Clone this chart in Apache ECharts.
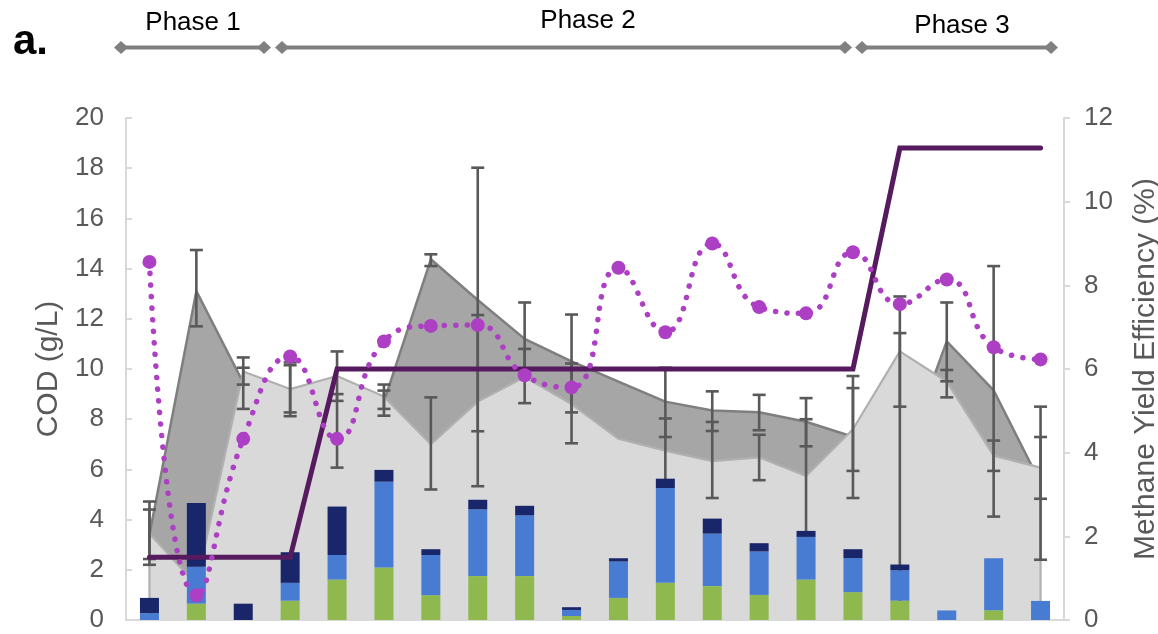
<!DOCTYPE html>
<html>
<head>
<meta charset="utf-8">
<script src="https://cdn.jsdelivr.net/npm/echarts@6/dist/echarts.min.js"></script>
<style>
  html, body { margin: 0; padding: 0; background: #ffffff; }
  #chart { width: 1158px; height: 634px; }
</style>
</head>
<body>
<div id="chart"></div>
<script>
// Sampling points along the three operating phases
const samples = ['1', '2', '3', '4', '5', '6', '7', '8', '9', '10',
                 '11', '12', '13', '14', '15', '16', '17', '18', '19', '20'];

// COD fractions of the effluent (g/L), stacked bottom to top
const codGreen = [0, 0.65, 0, 0.77, 1.61, 2.09, 0.99, 1.75, 1.75, 0.16, 0.88, 1.48, 1.35, 1.0, 1.61, 1.11, 0.77, 0, 0.39, 0];
const codBlue  = [0.27, 1.47, 0, 0.71, 0.98, 3.42, 1.6, 2.66, 2.42, 0.24, 1.45, 3.78, 2.09, 1.73, 1.70, 1.36, 1.21, 0.38, 2.07, 0.76];
const codNavy  = [0.61, 2.54, 0.65, 1.22, 1.93, 0.47, 0.23, 0.38, 0.38, 0.11, 0.13, 0.37, 0.6, 0.33, 0.24, 0.35, 0.23, 0, 0, 0];

// Total COD profiles (g/L) drawn as overlapping areas
const codDark  = [3.4, 13.1, 9.45, 9.15, 7.5, 8.7, 14.37, 12.75, 11.2, 10.3, 9.5, 8.7, 8.35, 8.28, 7.9, 7.3, 6.0, 11.1, 9.15, 5.45];
const codLight = [3.45, 1.4, 9.9, 9.2, 9.72, 8.9, 7.0, 8.7, 9.68, 8.6, 7.22, 6.75, 6.33, 6.48, 5.74, 7.6, 10.7, 9.5, 6.55, 6.07];

// Error ranges (g/L) for the two area profiles; null where none was measured
const errDarkLow   = [2.2, 11.7, 8.41, 8.12, 6.07, 8.14, 14.1, 7.52, 9.72, 8.27, null, 7.29, 7.53, 7.56, 6.92, 4.86, 0.57, 9.51, 4.12, 2.4];
const errDarkHigh  = [4.72, 14.74, 10.05, 10.26, 9.0, 9.38, 14.57, 18.02, 12.65, 12.17, null, 10.05, 9.11, 8.97, 8.84, 9.72, 11.43, 12.65, 14.1, 8.5];
const errLightLow  = [2.43, null, 9.38, 8.27, 8.73, 8.41, 5.2, 5.33, 8.64, 7.04, null, 5.45, 4.86, 5.57, 3.48, 5.94, 8.5, 8.87, 5.94, 4.83];
const errLightHigh = [4.4, null, 10.46, 10.15, 10.7, 9.14, 8.87, 12.15, 10.8, 10.22, null, 8.03, 7.89, 7.38, 8.0, 9.24, 12.89, 9.96, 7.15, 7.29];

// Feed COD per phase (g/L)
const feedCod = [2.5, 2.5, 2.5, 2.5, 10, 10, 10, 10, 10, 10, 10, 10, 10, 10, 10, 10, 18.8, 18.8, 18.8, 18.8];

// Methane yield efficiency (%)
const methaneYield = [8.56, 0.59, 4.33, 6.3, 4.33, 6.66, 7.03, 7.05, 5.85, 5.56, 8.42, 6.88, 9.0, 7.48, 7.33, 8.79, 7.55, 8.14, 6.52, 6.23];

// Axis ticks
const codTicks = { min: 0, max: 20, step: 2 };
const yieldTicks = { min: 0, max: 12, step: 2 };

const FONT = "'Liberation Sans', Arial, sans-serif";

function areaRenderer(values, fill, stroke, width, withEdges) {
  return function (params, api) {
    const top = values.map((v, i) => api.coord([i, v]));
    const b0 = api.coord([0, 0]);
    const b1 = api.coord([values.length - 1, 0]);
    const outline = withEdges ? [b0].concat(top, [b1]) : top;
    return {
      type: 'group',
      children: [
        { type: 'polygon', shape: { points: [b0].concat(top, [b1]) }, style: { fill: fill } },
        { type: 'polyline', shape: { points: outline },
          style: { fill: 'none', stroke: stroke, lineWidth: width, lineJoin: 'round' } }
      ]
    };
  };
}

function errorRenderer(params, api) {
  const x = api.value(0);
  const p1 = api.coord([x, api.value(2)]);
  const p2 = api.coord([x, api.value(1)]);
  const hw = 6.5;
  const st = { stroke: '#595959', lineWidth: 2.6 };
  return {
    type: 'group',
    children: [
      { type: 'line', shape: { x1: p1[0], y1: p1[1], x2: p2[0], y2: p2[1] }, style: st },
      { type: 'line', shape: { x1: p1[0] - hw, y1: p1[1], x2: p1[0] + hw, y2: p1[1] }, style: st },
      { type: 'line', shape: { x1: p2[0] - hw, y1: p2[1], x2: p2[0] + hw, y2: p2[1] }, style: st }
    ]
  };
}

function errorData(lows, highs) {
  const out = [];
  lows.forEach((lo, i) => { if (lo != null && highs[i] != null) out.push([i, lo, highs[i]]); });
  return out;
}

function phaseArrow(x1, x2, y) {
  const c = '#808080';
  const diamond = (x) => ({
    type: 'polygon',
    shape: { points: [[x - 7, y], [x, y - 6.5], [x + 7, y], [x, y + 6.5]] },
    style: { fill: c }
  });
  return [
    { type: 'line', shape: { x1: x1, y1: y, x2: x2, y2: y }, style: { stroke: c, lineWidth: 4 } },
    diamond(x1), diamond(x2)
  ];
}

function phaseLabel(text, x, y) {
  return { type: 'text', x: x, y: y,
    style: { text: text, font: '26px ' + FONT, fill: '#000000', align: 'center', verticalAlign: 'middle' } };
}

const chart = echarts.init(document.getElementById('chart'), null, { renderer: 'canvas' });

const axisLineGrey = { color: '#d9d9d9', width: 2 };

chart.setOption({
  animation: false,
  backgroundColor: '#ffffff',
  grid: { left: 126, right: 94, top: 118, bottom: 14, containLabel: false, outerBoundsMode: 'none' },
  xAxis: {
    type: 'category',
    data: samples,
    boundaryGap: true,
    axisLine: { show: true, lineStyle: axisLineGrey },
    axisTick: { show: false },
    axisLabel: { show: false },
    splitLine: { show: false }
  },
  yAxis: [
    {
      type: 'value', position: 'left',
      min: codTicks.min, max: codTicks.max, interval: codTicks.step,
      axisLine: { show: true, lineStyle: axisLineGrey },
      axisTick: { show: true, inside: true, length: 6, lineStyle: axisLineGrey },
      splitLine: { show: false },
      axisLabel: { color: '#595959', fontSize: 26, fontFamily: FONT, margin: 22 },
      name: 'COD (g/L)', nameLocation: 'middle', nameRotate: 90, nameGap: 62,
      nameTextStyle: { color: '#595959', fontSize: 30, fontFamily: FONT }
    },
    {
      type: 'value', position: 'right',
      min: yieldTicks.min, max: yieldTicks.max, interval: yieldTicks.step,
      axisLine: { show: true, lineStyle: axisLineGrey },
      axisTick: { show: true, inside: false, length: 6, lineStyle: axisLineGrey },
      splitLine: { show: false },
      axisLabel: { color: '#595959', fontSize: 26, fontFamily: FONT, margin: 20 },
      name: 'Methane Yield Efficiency (%)', nameLocation: 'middle', nameRotate: 90, nameGap: 67,
      nameTextStyle: { color: '#595959', fontSize: 30, fontFamily: FONT }
    }
  ],
  graphic: [
    { type: 'text', x: 13, y: 42,
      style: { text: 'a.', font: 'bold 42px ' + FONT, fill: '#000000', verticalAlign: 'middle' } },
    phaseLabel('Phase 1', 193, 23),
    phaseLabel('Phase 2', 588, 21),
    phaseLabel('Phase 3', 962, 26)
  ].concat(phaseArrow(121, 264, 47.5), phaseArrow(282, 845, 47.5), phaseArrow(862, 1051, 47.5)),
  series: [
    {
      name: 'COD profile (dark)', type: 'custom', silent: true,
      xAxisIndex: 0, yAxisIndex: 0, data: [[0, 0]],
      renderItem: areaRenderer(codDark, '#a6a6a6', '#7f7f7f', 2.5, false)
    },
    {
      name: 'COD profile (light)', type: 'custom', silent: true,
      xAxisIndex: 0, yAxisIndex: 0, data: [[0, 0]],
      renderItem: areaRenderer(codLight, '#d9d9d9', '#b0b0b0', 2.2, true)
    },
    {
      name: 'Error (dark)', type: 'custom', silent: true,
      xAxisIndex: 0, yAxisIndex: 0, encode: { x: 0, y: [1, 2] },
      data: errorData(errDarkLow, errDarkHigh), renderItem: errorRenderer
    },
    {
      name: 'Error (light)', type: 'custom', silent: true,
      xAxisIndex: 0, yAxisIndex: 0, encode: { x: 0, y: [1, 2] },
      data: errorData(errLightLow, errLightHigh), renderItem: errorRenderer
    },
    { name: 'COD green', type: 'bar', stack: 'cod', barWidth: 19, data: codGreen,
      itemStyle: { color: '#8fb94e' } },
    { name: 'COD blue', type: 'bar', stack: 'cod', barWidth: 19, data: codBlue,
      itemStyle: { color: '#487bd2' } },
    { name: 'COD navy', type: 'bar', stack: 'cod', barWidth: 19, data: codNavy,
      itemStyle: { color: '#19266a' } },
    {
      name: 'Feed COD', type: 'line', yAxisIndex: 0, data: feedCod,
      symbol: 'none', silent: true,
      lineStyle: { color: '#561b5e', width: 5, cap: 'round', join: 'miter' }
    },
    {
      name: 'Methane yield efficiency', type: 'line', yAxisIndex: 1, data: methaneYield,
      smooth: 0.5, symbol: 'circle', symbolSize: 14, showSymbol: true, silent: true,
      itemStyle: { color: '#ad3fc4' },
      lineStyle: { color: '#ad3fc4', width: 5.5, type: [0.1, 11.5], cap: 'round' }
    }
  ]
});
</script>
</body>
</html>
